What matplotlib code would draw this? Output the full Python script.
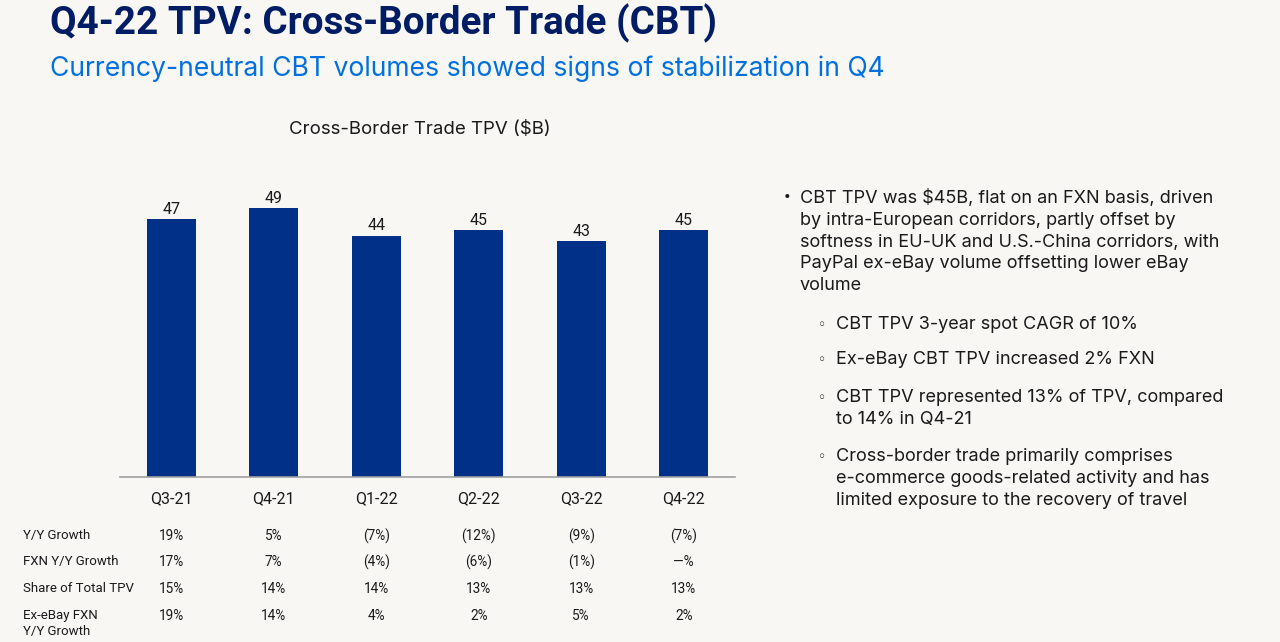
import matplotlib.pyplot as plt
from matplotlib.transforms import blended_transform_factory

# Data
quarters = ["Q3-21", "Q4-21", "Q1-22", "Q2-22", "Q3-22", "Q4-22"]
tpv = [47, 49, 44, 45, 43, 45]

row_labels = ["Y/Y Growth", "FXN Y/Y Growth", "Share of Total TPV", "Ex-eBay FXN\nY/Y Growth"]
yy_growth = ["19%", "5%", "(7%)", "(12%)", "(9%)", "(7%)"]
fxn_growth = ["17%", "7%", "(4%)", "(6%)", "(1%)", "\u2014%"]
share_tpv = ["15%", "14%", "14%", "13%", "13%", "13%"]
ex_ebay = ["19%", "14%", "4%", "2%", "5%", "2%"]
table_rows = [yy_growth, fxn_growth, share_tpv, ex_ebay]

title = "Q4-22 TPV: Cross-Border Trade (CBT)"
subtitle = "Currency-neutral CBT volumes showed signs of stabilization in Q4"
chart_title = "Cross-Border Trade TPV ($B)"
main_bullet = ("CBT TPV was $45B, flat on an FXN basis, driven\n"
               "by intra-European corridors, partly offset by\n"
               "softness in EU-UK and U.S.-China corridors, with\n"
               "PayPal ex-eBay volume offsetting lower eBay\n"
               "volume")
sub_bullets = [
    "CBT TPV 3-year spot CAGR of 10%",
    "Ex-eBay CBT TPV increased 2% FXN",
    "CBT TPV represented 13% of TPV, compared\nto 14% in Q4-21",
    "Cross-border trade primarily comprises\ne-commerce goods-related activity and has\nlimited exposure to the recovery of travel",
]

bg = "#f8f7f4"
navy = "#003087"
title_color = "#001c64"
sub_color = "#0070e0"
text_color = "#1a1a1a"

W, H = 1280, 642
plt.rcParams['font.family'] = ['Roboto', 'DejaVu Sans']
body_font = ['Inter', 'DejaVu Sans']

fig = plt.figure(figsize=(W / 100, H / 100), dpi=100, facecolor=bg)


def fy(py):
    # pixel row from top -> figure fraction
    return 1 - py / H


# axes: x 120..735 px, baseline at 477 px, 50 units = 274 px
ax = fig.add_axes([120 / W, fy(477), 615 / W, 274 / H])
ax.set_facecolor(bg)
x = list(range(len(quarters)))
bars = ax.bar(x, tpv, width=0.48, color=navy)
ax.set_xlim(-0.5, 5.5)
ax.set_ylim(0, 50)
for b, v in zip(bars, tpv):
    ax.text(b.get_x() + b.get_width() / 2, v + 0.5, str(v),
            ha='center', va='bottom', fontsize=11.5, color=text_color)

for s in ['top', 'right', 'left']:
    ax.spines[s].set_visible(False)
ax.spines['bottom'].set_color('#a0a0a0')
ax.spines['bottom'].set_linewidth(1.2)
ax.set_yticks([])
ax.set_xticks(x)
ax.set_xticklabels(quarters, fontsize=11.5, color=text_color)
ax.tick_params(axis='x', length=0, pad=10)

# table under the chart
tr = blended_transform_factory(ax.transData, fig.transFigure)
row_y = [536, 562, 589, 616]
for lab, ry in zip(row_labels, row_y):
    fig.text(23 / W, fy(ry), lab.split("\n")[0], ha='left', va='center',
             fontsize=9.5, color=text_color)
    if "\n" in lab:
        fig.text(23 / W, fy(ry + 15), lab.split("\n")[1], ha='left', va='center',
                 fontsize=9.5, color=text_color)
for vals, ry in zip(table_rows, row_y):
    for xi, v in zip(x, vals):
        ax.text(xi, fy(ry), v, transform=tr, ha='center', va='center',
                fontsize=9.8, color=text_color)

# titles
fig.text(50 / W, fy(23), title, ha='left', va='center', fontsize=27.8,
         fontweight='bold', color=title_color)
fig.text(50 / W, fy(69), subtitle, ha='left', va='center', fontsize=19.1,
         color=sub_color, family=body_font)
fig.text(420 / W, fy(130), chart_title, ha='center', va='center', fontsize=13.4,
         color=text_color, family=body_font)

# commentary on the right
fig.text(784 / W, fy(198), "\u2022", ha='left', va='center', fontsize=14, color=text_color)
fig.text(800 / W, fy(189), main_bullet, ha='left', va='top', fontsize=13,
         color=text_color, linespacing=1.37, family=body_font)
sub_y = [325, 360, 398, 457]
for txt, sy in zip(sub_bullets, sub_y):
    fig.text(818 / W, fy(sy), "\u25e6", ha='left', va='center', fontsize=10, color=text_color)
    fig.text(836 / W, fy(sy - 9), txt, ha='left', va='top', fontsize=13,
             color=text_color, linespacing=1.37, family=body_font)

fig.savefig("out.png", dpi=100, facecolor=bg)
